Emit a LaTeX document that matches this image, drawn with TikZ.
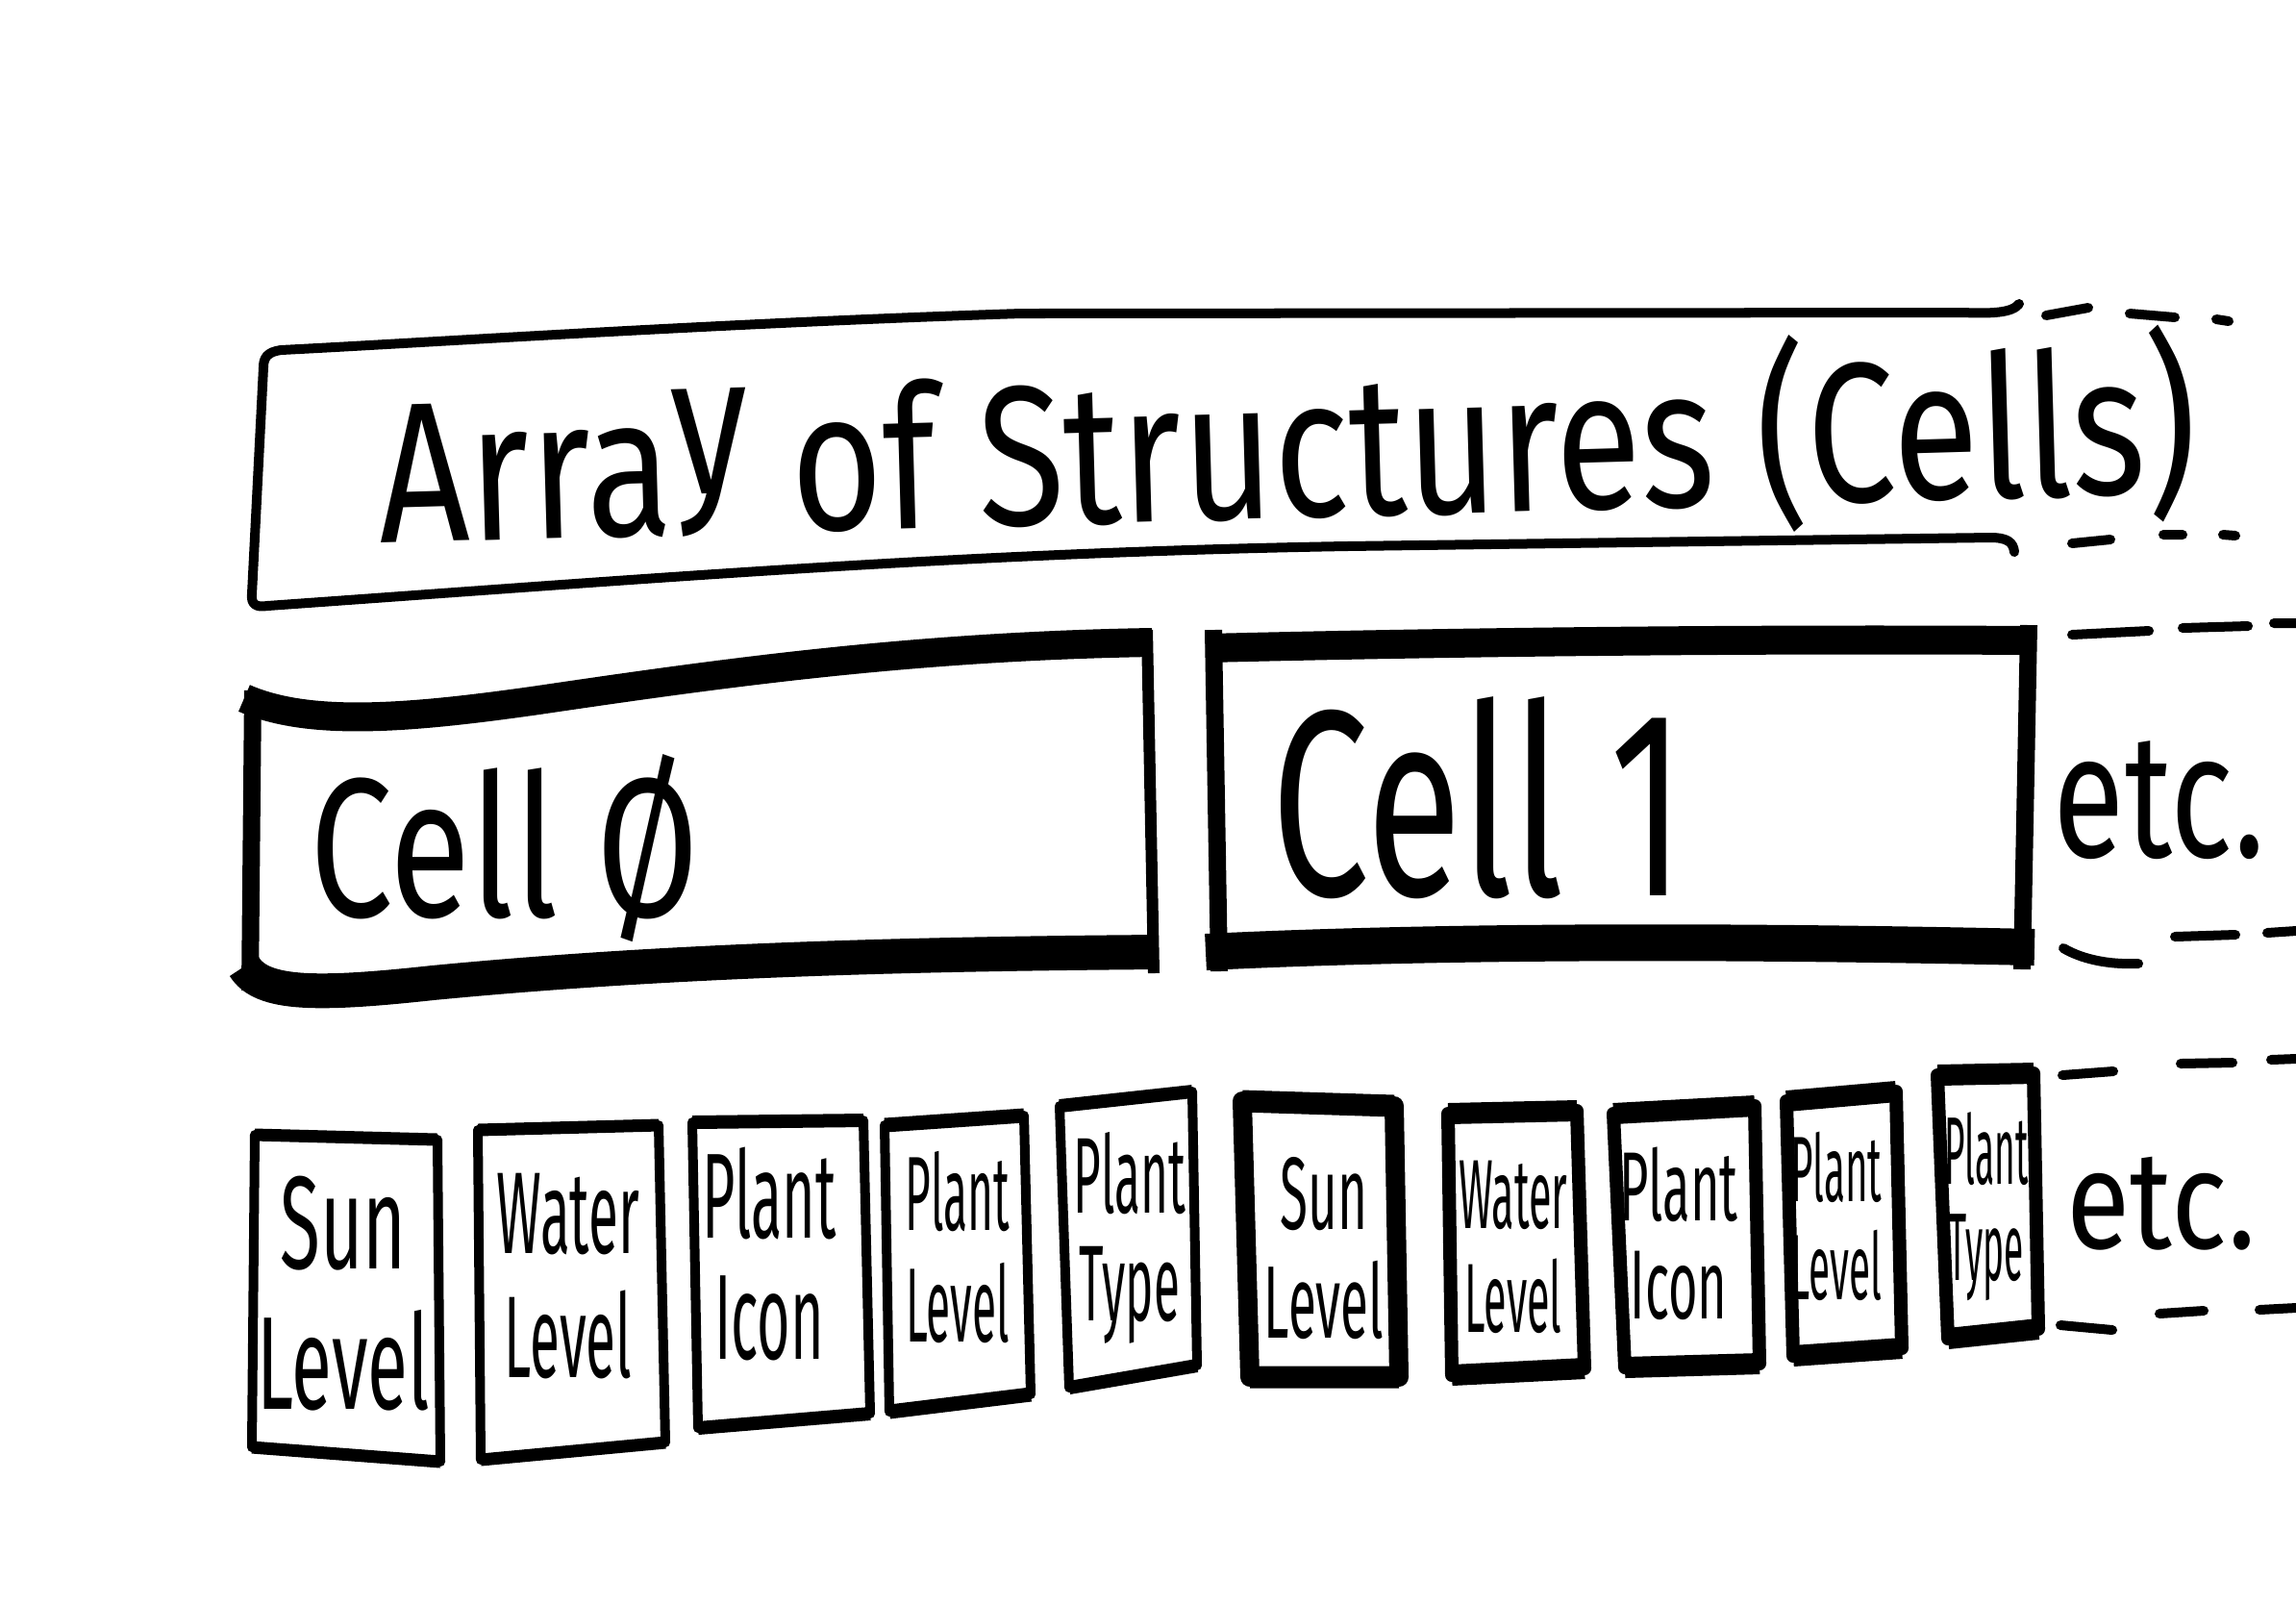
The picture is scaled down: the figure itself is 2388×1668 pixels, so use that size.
\documentclass[tikz,border=0pt]{standalone}
\usepackage{fontspec}
\setmainfont{Fira Sans}
\usepackage{graphicx}
\usetikzlibrary{positioning}
\newcommand{\hand}[3]{\resizebox*{#1}{#2}{#3}}

\begin{document}
\begin{tikzpicture}[x=0.01cm,y=-0.01cm,inner sep=0pt,outer sep=0pt,
  pen/.style={line width=0.1cm,line cap=round,line join=round},
  band/.style={line width=#1,line cap=butt,line join=round}]
  \useasboundingbox[fill=white] (0,0) rectangle (2388,1668);

  % array bar
  \draw[pen] (2100,316) .. controls (2092,326) and (2070,326) .. (2040,325)
        -- (1062,326) .. controls (750,336) and (450,356) .. (292,364)
        .. controls (278,366) and (274,372) .. (274,382)
        -- (262,618) .. controls (261,628) and (266,632) .. (278,630)
        .. controls (700,600) and (1000,575) .. (1400,568)
        -- (2070,559) .. controls (2088,559) and (2094,564) .. (2095,574);
  \node[rotate=1.6] (title) at (1339,466) {\hand{18.9cm}{2.05cm}{Arra\raisebox{0.2em}{y} of Structures (Cells)}};
  \draw[pen] (2128,328) -- (2172,320) (2215,326) -- (2262,330) (2305,332) -- (2318,334);
  \draw[pen] (2155,565) -- (2195,561) (2250,556) -- (2270,556) (2312,556) -- (2325,557);

  % cell 0
  \draw[band=0.18cm] (263,718) -- (260,1030);
  \draw[band=0.3cm] (254,726) .. controls (320,755) and (420,748) .. (560,728)
        .. controls (750,700) and (950,672) .. (1198,668);
  \draw[band=0.12cm] (1193,655) -- (1200,1012);
  \draw[band=0.36cm] (254,1005) .. controls (272,1035) and (330,1035) .. (450,1022)
        .. controls (700,998) and (950,992) .. (1204,990);
  \node (cell0) at (525,882) {\hand{4.05cm}{1.95cm}{Cell Ø}};

  % cell 1
  \draw[band=0.18cm] (1262,655) -- (1268,1010);
  \draw[band=0.3cm] (1254,674) .. controls (1500,668) and (1800,664) .. (2116,666);
  \draw[band=0.18cm] (2110,650) -- (2103,1008);
  \draw[band=0.38cm] (1254,990) .. controls (1500,978) and (1800,978) .. (2116,985);
  \node (cell1) at (1538,830) {\hand{4.3cm}{2.1cm}{Cell 1}};
  \node (etcA) at (2246,832) {\hand{2.2cm}{1.23cm}{etc.}};
  \draw[pen] (2155,660) -- (2235,656) (2270,653) -- (2338,651) (2365,648) -- (2388,648);
  \draw[pen] (2146,986) .. controls (2170,1000) and (2200,1003) .. (2224,1002)
        (2262,974) -- (2325,972) (2358,970) -- (2388,968);

  % fields
  \foreach \ax/\ay/\bx/\by/\cx/\cy/\dx/\dy/\bw/\sw in {
      265/1180/455/1185/458/1520/262/1505/0.13/0.1,
      497/1175/685/1170/692/1500/500/1518/0.13/0.1,
      720/1167/898/1165/905/1470/726/1485/0.14/0.1,
      920/1170/1065/1160/1072/1450/925/1468/0.15/0.1,
      1102/1150/1240/1135/1245/1420/1112/1443/0.14/0.1,
      1292/1145/1450/1150/1455/1432/1300/1432/0.23/0.2,
      1506/1158/1640/1155/1648/1423/1510/1430/0.22/0.14,
      1678/1158/1825/1150/1830/1418/1690/1422/0.22/0.14,
      1858/1145/1972/1135/1978/1402/1865/1410/0.22/0.14,
      2015/1118/2115/1116/2120/1382/2026/1392/0.22/0.14}
  {
    \draw[pen,line width=\sw cm] (\ax,\ay) -- (\dx,\dy) (\bx,\by) -- (\cx,\cy);
    \draw[band=\bw cm] (\ax,\ay) -- (\bx,\by) (\dx,\dy) -- (\cx,\cy);
  }
  \foreach \i/\x/\y/\w/\h/\ta/\tb in {
      1/357/1345/1.79/2.44/Sun/Level,
      2/591/1327/1.48/2.13/Water/Level,
      3/800/1304/1.39/2.22/Plant/Icon,
      4/996/1297/1.08/2.0/Plant/Level,
      5/1175/1287/1.16/2.2/Plant/Type,
      6/1377/1298/1.24/1.9/Sun/Level,
      7/1574/1297/1.13/1.8/Water/Level,
      8/1746/1283/1.23/1.8/Plant/Icon,
      9/1910/1265/0.95/1.76/Plant/Level,
      10/2066/1255/0.87/1.96/Plant/Type}
    \node (field\i) at (\x,\y) {\hand{\w cm}{\h cm}{\shortstack{\ta\\\tb}}};
  \node (etcB) at (2248,1252) {\hand{1.96cm}{0.97cm}{etc.}};
  \draw[pen] (2145,1118) -- (2198,1114) (2268,1106) -- (2322,1105) (2362,1102) -- (2388,1101);
  \draw[pen] (2143,1378) -- (2197,1383) (2246,1366) -- (2292,1363) (2350,1362) -- (2388,1360);
\end{tikzpicture}
\end{document}
